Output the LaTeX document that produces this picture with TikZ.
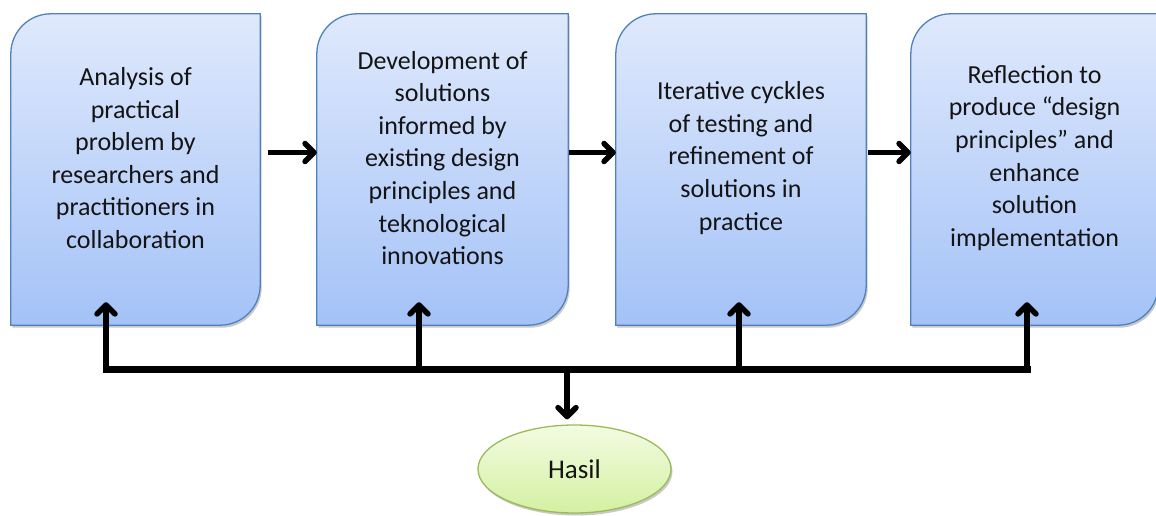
\documentclass[tikz,border=0pt]{standalone}
\usepackage{fontspec}
\setmainfont{Carlito}
\usetikzlibrary{arrows.meta,calc,shapes.geometric,shadows}
\pgfdeclarelayer{background}
\pgfsetlayers{background,main}

\definecolor{boxtop}{RGB}{223,233,252}
\definecolor{boxbot}{RGB}{164,194,247}
\definecolor{boxborder}{RGB}{79,129,189}
\definecolor{hasiltop}{RGB}{242,252,226}
\definecolor{hasilbot}{RGB}{212,240,162}
\definecolor{hasilborder}{RGB}{155,187,89}

% panel outline: rounded top-left and bottom-right corners only
\newcommand\roundpanel[1]{%
  \path[panel] ($(#1.north west)+(0,-40)$)
    arc[start angle=180,end angle=90,radius=40]
    -- (#1.north east)
    -- ($(#1.south east)+(0,40)$)
    arc[start angle=0,end angle=-90,radius=40]
    -- (#1.south west) -- cycle;}

\begin{document}
\begin{tikzpicture}[x=1pt,y=1pt,
  frame/.style={minimum height=311pt, inner sep=0pt, draw=none},
  boxtext/.style={font=\fontsize{26}{32.6}\selectfont, align=center, text=black!92},
  panel/.style={draw=boxborder, line width=1.3pt, top color=boxtop, bottom color=boxbot,
    drop shadow={shadow xshift=1.5pt, shadow yshift=-2.5pt, opacity=0.3, fill=black!70}},
  flow/.style={line width=5.5pt, -{Straight Barb[length=9pt,width=18pt,round]}},
  busline/.style={line width=7pt, line cap=rect}
]
\useasboundingbox (0,0) rectangle (1156,515);

% step frames
\node[frame, minimum width=249pt] (b1) at (135.5,345.5) {};
\node[frame, minimum width=251pt] (b2) at (442.5,345.5) {};
\node[frame, minimum width=250pt] (b3) at (741,345.5) {};
\node[frame, minimum width=247pt] (b4) at (1034.5,345.5) {};

\begin{pgfonlayer}{background}
  \roundpanel{b1}
  \roundpanel{b2}
  \roundpanel{b3}
  \roundpanel{b4}
\end{pgfonlayer}

% step texts
\node[boxtext] (t1) at ($(b1)+(0,11.5)$) {Analysis of\\practical\\problem by\\researchers and\\practitioners in\\collaboration};
\node[boxtext] (t2) at ($(b2)+(0,11.5)$) {Development of\\solutions\\informed by\\existing design\\principles and\\teknological\\innovations};
\node[boxtext] (t3) at ($(b3)+(0,11.5)$) {Iterative cyckles\\of testing and\\refinement of\\solutions in\\practice};
\node[boxtext] (t4) at ($(b4)+(0,11.5)$) {Reflection to\\produce “design\\principles” and\\enhance\\solution\\implementation};

% result
\node[ellipse, minimum width=193pt, minimum height=88pt, draw=hasilborder, line width=1.3pt,
  top color=hasiltop, bottom color=hasilbot, text=black!92,
  font=\fontsize{27}{32}\selectfont,
  drop shadow={shadow xshift=1.5pt, shadow yshift=-2.5pt, opacity=0.3, fill=black!70}]
  (hasil) at (574.5,46) {Hasil};

% sequence arrows
\draw[flow] ($(b1.east)+(8,17)$) -- ($(b2.west)+(0,17)$);
\draw[flow] ($(b2.east)+(1,17)$) -- ($(b3.west)+(0,17)$);
\draw[flow] ($(b3.east)+(2,17)$) -- ($(b4.west)+(0,17)$);

% feedback bus
\coordinate (j1) at (106,146);
\coordinate (j2) at (419,146);
\coordinate (j3) at (739,146);
\coordinate (j4) at (1027,146);
\coordinate (jd) at (567,146);
\draw[busline] (j1) -- (j4);
\draw[flow] ($(j1)+(0,-3.5)$) -- ($(j1 |- b1.south)+(0,23)$);
\draw[flow] (j2) -- ($(j2 |- b2.south)+(0,23)$);
\draw[flow] (j3) -- ($(j3 |- b3.south)+(0,23)$);
\draw[flow] ($(j4)+(0,-3.5)$) -- ($(j4 |- b4.south)+(0,23)$);
\draw[flow] (jd) -- ($(jd |- hasil.north)+(0,5)$);
\end{tikzpicture}
\end{document}
